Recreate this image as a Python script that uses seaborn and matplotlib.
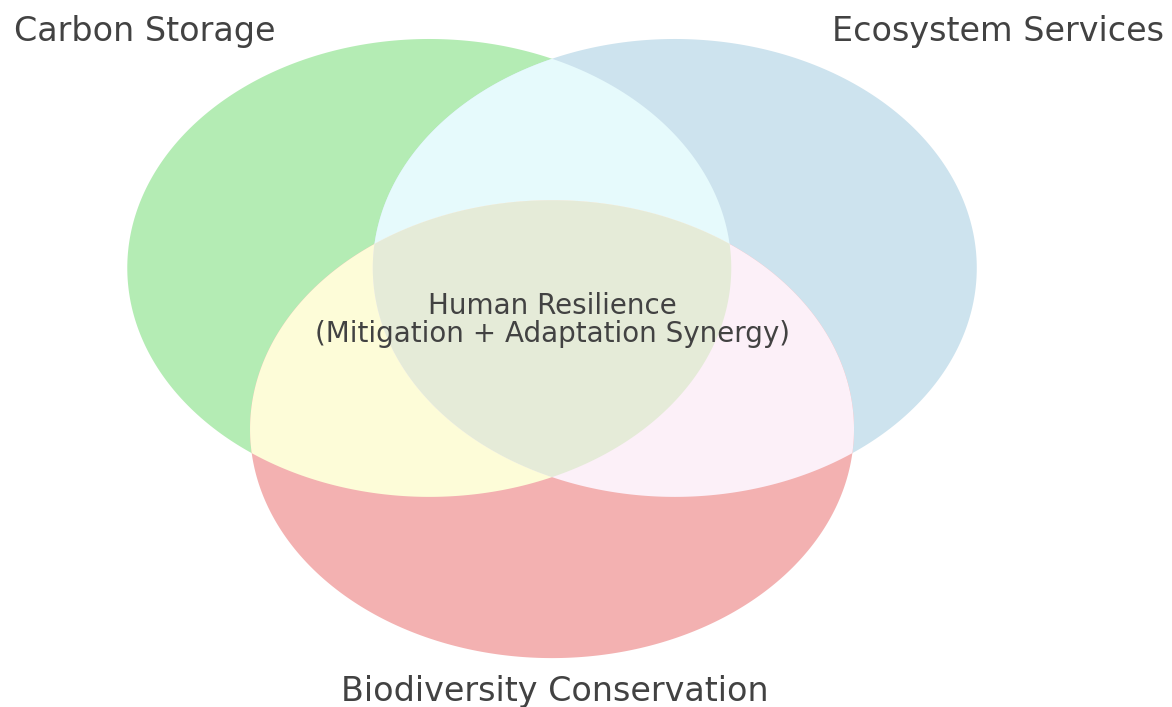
import numpy as np
import matplotlib
matplotlib.use("Agg")
import matplotlib.pyplot as plt
import seaborn as sns
from matplotlib.patches import Polygon

# ---- data ----
set_names = ["Carbon Storage", "Ecosystem Services", "Biodiversity Conservation"]
set_colors = ["#b4ecb4", "#cde3ee", "#f3b1b1"]
pair_keys = [(0, 1), (0, 2), (1, 2)]
pair_colors = ["#e6fafc", "#fdfcd8", "#fcf0f8"]
center_color = "#e5ebd8"
center_label = "Human Resilience\n(Mitigation + Adaptation Synergy)"
center_dist = 0.813   # distance between circle centres (radius = 1)

sns.set_theme(style="white")
plt.rcParams["font.family"] = ["DejaVu Sans"]

# equilateral layout of three unit circles
h = center_dist * np.sqrt(3) / 2
centers = [(-center_dist / 2, h / 3), (center_dist / 2, h / 3), (0.0, -2 * h / 3)]

t = np.linspace(0, 2 * np.pi, 721)[:-1]
def circle_poly(c):
    return np.column_stack([c[0] + np.cos(t), c[1] + np.sin(t)])

def clip(subject, clipper):
    # Sutherland-Hodgman, clipper convex & counter-clockwise
    out = list(subject)
    n = len(clipper)
    for i in range(n):
        a = clipper[i]; b = clipper[(i + 1) % n]
        inp = out; out = []
        if not inp:
            break
        def inside(p):
            return (b[0] - a[0]) * (p[1] - a[1]) - (b[1] - a[1]) * (p[0] - a[0]) >= 0
        def inter(p, q):
            x1, y1 = p; x2, y2 = q; x3, y3 = a; x4, y4 = b
            den = (x1 - x2) * (y3 - y4) - (y1 - y2) * (x3 - x4)
            tt = ((x1 - x3) * (y3 - y4) - (y1 - y3) * (x3 - x4)) / den
            return (x1 + tt * (x2 - x1), y1 + tt * (y2 - y1))
        s = inp[-1]
        for e in inp:
            if inside(e):
                if not inside(s):
                    out.append(inter(s, e))
                out.append(e)
            elif inside(s):
                out.append(inter(s, e))
            s = e
    return np.array(out)

polys = [circle_poly(c) for c in centers]

fig = plt.figure(figsize=(11.72, 7.07), dpi=100)
ax = fig.add_axes([0, 0, 1, 1])
ax.set_xlim(-1.828, 2.053)
ax.set_ylim(-1.683, 1.405)
ax.axis("off")

for p, col in zip(polys, set_colors):
    ax.add_patch(Polygon(p, closed=True, facecolor=col, edgecolor="none", lw=0))
for (i, j), col in zip(pair_keys, pair_colors):
    ax.add_patch(Polygon(clip(polys[i], polys[j]), closed=True,
                         facecolor=col, edgecolor="none", lw=0))
tri = clip(clip(polys[0], polys[1]), polys[2])
ax.add_patch(Polygon(tri, closed=True, facecolor=center_color, edgecolor="none", lw=0))

txt_col = "#424242"
ax.text(-1.349, 1.226, set_names[0], ha="center", va="baseline", fontsize=24, color=txt_col)
ax.text(1.477, 1.226, set_names[1], ha="center", va="baseline", fontsize=24, color=txt_col)
ax.text(0.01, -1.656, set_names[2], ha="center", va="baseline", fontsize=24, color=txt_col)
ax.text(0.0, -0.089, center_label, ha="center", va="baseline", fontsize=20,
        color=txt_col, linespacing=0.98, multialignment="center")

fig.savefig("out.png", dpi=100, facecolor="white")
